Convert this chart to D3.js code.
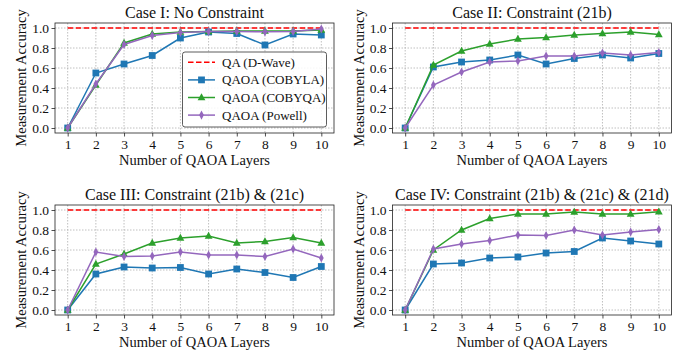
<!DOCTYPE html>
<html>
<head>
<meta charset="utf-8">
<script src="https://cdn.jsdelivr.net/npm/d3@7"></script>
</head>
<body style="margin:0">
<svg width="680" height="352" font-family="Liberation Serif" style="font-family:'Liberation Serif'"></svg>
<script>
// data
var layers = [1, 2, 3, 4, 5, 6, 7, 8, 9, 10]
var yTicks = [0, 0.2, 0.4, 0.6, 0.8, 1.0]
var titles = ['Case I: No Constraint', 'Case II: Constraint (21b)',
              'Case III: Constraint (21b) & (21c)', 'Case IV: Constraint (21b) & (21c) & (21d)']
var qaDwave = [1, 1, 1, 1]
var cobyla = [
  [0, 0.55, 0.64, 0.725, 0.90, 0.96, 0.945, 0.83, 0.94, 0.93],
  [0, 0.61, 0.66, 0.68, 0.73, 0.64, 0.695, 0.73, 0.70, 0.745],
  [0, 0.36, 0.43, 0.42, 0.425, 0.36, 0.41, 0.375, 0.325, 0.435],
  [0, 0.46, 0.47, 0.52, 0.53, 0.57, 0.585, 0.72, 0.69, 0.66]
]
var cobyqa = [
  [0, 0.43, 0.85, 0.94, 0.96, 0.965, 0.97, 0.97, 0.97, 0.98],
  [0, 0.63, 0.77, 0.84, 0.89, 0.905, 0.93, 0.945, 0.96, 0.935],
  [0, 0.46, 0.56, 0.67, 0.72, 0.74, 0.67, 0.685, 0.725, 0.67],
  [0, 0.60, 0.80, 0.915, 0.96, 0.96, 0.98, 0.96, 0.96, 0.983]
]
var powell = [
  [0, 0.44, 0.835, 0.925, 0.955, 0.965, 0.965, 0.962, 0.965, 0.99],
  [0, 0.43, 0.56, 0.66, 0.67, 0.72, 0.72, 0.75, 0.73, 0.755],
  [0, 0.58, 0.535, 0.54, 0.58, 0.55, 0.55, 0.535, 0.61, 0.52],
  [0, 0.61, 0.66, 0.695, 0.75, 0.745, 0.80, 0.75, 0.78, 0.805]
]
var seriesNames = ['QA (D-Wave)', 'QAOA (COBYLA)', 'QAOA (COBYQA)', 'QAOA (Powell)']
var colors = ['#ff0000', '#1f77b4', '#2ca02c', '#9467bd']

var svg = d3.select('svg')
var lefts = [55, 392.5], tops = [23, 205]
var w = 279, h = 110

var markerPath = {
  square: 'M-3.4,-3.4H3.4V3.4H-3.4Z',
  triangle: 'M0,-4.2L3.9,2.8H-3.9Z',
  thin: 'M0,-4.6L2.4,0L0,4.6L-2.4,0Z'
}
var markers = [null, 'square', 'triangle', 'thin']

// every text gets the serif family set directly
function serif(sel, size) {
  return sel.attr('font-family', 'Liberation Serif')
    .style('font-family', "'Liberation Serif'")
    .style('font-size', size + 'px')
    .attr('fill', '#111')
}

titles.forEach(function(title, p){
  var ox = lefts[p % 2], oy = tops[Math.floor(p / 2)]
  var g = svg.append('g').attr('transform', 'translate(' + ox + ',' + oy + ')')

  var x = d3.scaleLinear().domain([0.55, 10.45]).range([0, w])
  var y = d3.scaleLinear().domain([-0.05, 1.05]).range([h, 0])

  // grid
  g.append('g').selectAll('line').data(layers).enter().append('line')
    .attr('x1', function(d){ return x(d) }).attr('x2', function(d){ return x(d) })
    .attr('y1', 0).attr('y2', h)
    .attr('stroke', '#b0b0b0').attr('stroke-width', 0.8).attr('stroke-dasharray', '1.5,1.5')
  g.append('g').selectAll('line').data(yTicks).enter().append('line')
    .attr('y1', function(d){ return y(d) }).attr('y2', function(d){ return y(d) })
    .attr('x1', 0).attr('x2', w)
    .attr('stroke', '#b0b0b0').attr('stroke-width', 0.8).attr('stroke-dasharray', '1.5,1.5')

  // axes
  var xAxis = g.append('g').attr('transform', 'translate(0,' + h + ')')
    .call(d3.axisBottom(x).tickValues(layers).tickSize(3.5).tickPadding(2.5).tickFormat(d3.format('d')))
  var yAxis = g.append('g')
    .call(d3.axisLeft(y).tickValues(yTicks).tickSize(3.5).tickPadding(2.5).tickFormat(d3.format('.1f')))
  ;[xAxis, yAxis].forEach(function(a){
    a.attr('font-family', 'Liberation Serif').attr('font-size', 13.5)
    a.select('.domain').remove()
    a.selectAll('line').attr('stroke', '#222').attr('stroke-width', 0.8)
    serif(a.selectAll('text'), 13.5)
  })

  var line = d3.line().x(function(d, i){ return x(layers[i]) }).y(function(d){ return y(d) })

  // QA reference line
  g.append('path').datum(layers.map(function(){ return qaDwave[p] }))
    .attr('d', line).attr('fill', 'none').attr('stroke', colors[0])
    .attr('stroke-width', 1.5).attr('stroke-dasharray', '5.5,2.5')

  ;[cobyla[p], cobyqa[p], powell[p]].forEach(function(vals, k){
    var c = colors[k + 1]
    g.append('path').datum(vals).attr('d', line).attr('fill', 'none')
      .attr('stroke', c).attr('stroke-width', 1.5)
    g.append('g').selectAll('path').data(vals).enter().append('path')
      .attr('d', markerPath[markers[k + 1]])
      .attr('transform', function(d, i){ return 'translate(' + x(layers[i]) + ',' + y(d) + ')' })
      .attr('fill', c)
  })

  // frame
  g.append('rect').attr('width', w).attr('height', h)
    .attr('fill', 'none').attr('stroke', '#222').attr('stroke-width', 0.8)

  serif(g.append('text').text(title).attr('x', w / 2).attr('y', -5)
    .attr('text-anchor', 'middle'), 16)
  serif(g.append('text').text('Number of QAOA Layers').attr('x', w / 2).attr('y', h + 32)
    .attr('text-anchor', 'middle'), 14.5)
  serif(g.append('text').text('Measurement Accuracy')
    .attr('transform', 'translate(-29,' + (h / 2) + ') rotate(-90)')
    .attr('text-anchor', 'middle'), 14.5)

  // legend in first panel
  if (p === 0) {
    var lg = g.append('g').attr('transform', 'translate(' + 127.5 + ',' + 29 + ')')
    lg.append('rect').attr('width', 144).attr('height', 75).attr('rx', 2.5)
      .attr('fill', 'rgba(255,255,255,0.85)').attr('stroke', '#333').attr('stroke-width', 0.8)
    seriesNames.forEach(function(name, k){
      var ly = 10.3 + k * 17.6
      var row = lg.append('g').attr('transform', 'translate(0,' + ly + ')')
      row.append('line').attr('x1', 5.5).attr('x2', 32.5).attr('y1', 0).attr('y2', 0)
        .attr('stroke', colors[k]).attr('stroke-width', 1.5)
        .attr('stroke-dasharray', k === 0 ? '5.5,2.5' : null)
      if (markers[k]) {
        row.append('path').attr('d', markerPath[markers[k]])
          .attr('transform', 'translate(19,0)').attr('fill', colors[k])
      }
      serif(row.append('text').text(name).attr('x', 39.5).attr('y', 4.5), 13)
    })
  }
})
</script>
</body>
</html>
